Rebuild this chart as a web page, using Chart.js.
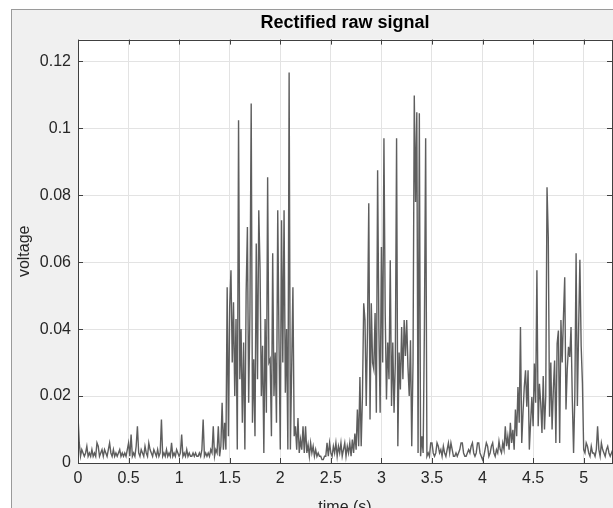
<!DOCTYPE html>
<html>
<head>
<meta charset="utf-8">
<script src="https://cdn.jsdelivr.net/npm/chart.js@4"></script>
<style>
    html, body { margin: 0; padding: 0; background: #fff; overflow: hidden; }
    #wrap { position: relative; width: 613px; height: 508px; overflow: hidden; }
    #panel { position: absolute; left: 11px; top: 9px; right: 0; bottom: 0;
             background: #f0f0f0; border-left: 1px solid #9a9a9a; border-top: 1px solid #9a9a9a; }
    #signalChart { position: absolute; left: 0; top: 0; }
</style>
</head>
<body>
<div id="wrap">
    <div id="panel"></div>
    <canvas id="signalChart" width="613" height="520"></canvas>
</div>
<script>
// sampling interval of the recording (s)
const sampleStep = 0.0125;

// rectified voltage
const quietStart = [
    0.014, 0.006, 0.002, 0.004, 0.003, 0.002, 0.003, 0.005, 0.002, 0.003,
    0.002, 0.004, 0.002, 0.003, 0.002, 0.006, 0.005, 0.002, 0.003, 0.004,
    0.002, 0.004, 0.003, 0.002, 0.004, 0.006, 0.003, 0.002, 0.004, 0.002,
    0.003, 0.002, 0.003, 0.004, 0.002, 0.003, 0.002, 0.003, 0.002, 0.004,
    0.006, 0.002, 0.0085, 0.002, 0.003, 0.002, 0.005, 0.011, 0.003, 0.002,
    0.004, 0.003, 0.002, 0.005, 0.003, 0.002, 0.006, 0.004, 0.003, 0.002,
    0.004, 0.003, 0.002, 0.004, 0.002, 0.003, 0.013, 0.002, 0.003, 0.002,
    0.004, 0.002, 0.003, 0.002, 0.006, 0.002, 0.003, 0.002, 0.004, 0.003,
    0.002, 0.003, 0.0085, 0.002, 0.003, 0.002, 0.004, 0.002, 0.003, 0.002,
    0.002, 0.003, 0.002, 0.003, 0.002, 0.002, 0.003, 0.002, 0.004, 0.013,
    0.002, 0.003, 0.002, 0.003, 0.002, 0.004, 0.003, 0.011, 0.002, 0.004,
    0.003, 0.011, 0.002, 0.005, 0.018, 0.004
];
const burstOne = [
    0.012, 0.004, 0.0525, 0.008, 0.047, 0.0576, 0.03, 0.048, 0.02, 0.043,
    0.004, 0.1024, 0.025, 0.04, 0.012, 0.036, 0.004, 0.051, 0.0705, 0.018,
    0.045, 0.1074, 0.012, 0.031, 0.008, 0.0656, 0.025, 0.0755, 0.058, 0.02,
    0.035, 0.003, 0.043, 0.015, 0.0854, 0.03, 0.031, 0.008, 0.0627, 0.02,
    0.033, 0.012, 0.0755, 0.036, 0.004, 0.0725, 0.03, 0.0755, 0.021, 0.04,
    0.004, 0.1167, 0.004, 0.028, 0.0525, 0.008
];
const quietMid = [
    0.011, 0.004, 0.0134, 0.003, 0.007, 0.004, 0.011, 0.003, 0.011, 0.003,
    0.0055, 0.002, 0.006, 0.003, 0.005, 0.002, 0.004, 0.002, 0.003, 0.002,
    0.002, 0.001, 0.001, 0.002, 0.002, 0.006, 0.002, 0.006, 0.003, 0.002,
    0.005, 0.003, 0.006, 0.002, 0.005, 0.003, 0.006, 0.002, 0.004, 0.006,
    0.002, 0.005, 0.003, 0.006, 0.002, 0.007, 0.003, 0.0088, 0.004, 0.016,
    0.005
];
const burstTwo = [
    0.0257, 0.005, 0.02, 0.0477, 0.0427, 0.017, 0.04, 0.0776, 0.013, 0.0477,
    0.03, 0.028, 0.0448, 0.015, 0.0875, 0.04, 0.015, 0.0645, 0.03, 0.097,
    0.045, 0.019, 0.036, 0.025, 0.0606, 0.017, 0.036, 0.015, 0.03, 0.097,
    0.005, 0.033, 0.022, 0.0406, 0.025, 0.0427, 0.032, 0.0427, 0.0287, 0.02,
    0.0367, 0.005, 0.03, 0.1098, 0.078, 0.1048, 0.003, 0.1045, 0.002, 0.008,
    0.003, 0.04, 0.097
];
const quietLate = [
    0.002, 0.003, 0.002, 0.006, 0.006, 0.003, 0.002, 0.003, 0.006, 0.005,
    0.003, 0.004, 0.002, 0.005, 0.003, 0.002, 0.004, 0.006, 0.003, 0.006,
    0.004, 0.002, 0.002, 0.003, 0.002, 0.003, 0.004, 0.006, 0.006, 0.003,
    0.002, 0.002, 0.003, 0.004, 0.003, 0.005, 0.006, 0.003, 0.002, 0.003,
    0.006, 0.006, 0.003, 0.002, 0.001, 0.002, 0.004, 0.006, 0.005, 0.002,
    0.003, 0.005, 0.006, 0.003, 0.002, 0.004, 0.003, 0.0065, 0.004, 0.003
];
const burstThree = [
    0.006, 0.004, 0.011, 0.005, 0.008, 0.004, 0.012, 0.006, 0.0099, 0.004,
    0.016, 0.008, 0.0227, 0.012, 0.0406, 0.006, 0.015, 0.0227, 0.0277, 0.0168,
    0.0277, 0.004, 0.012, 0.0197, 0.011, 0.0297, 0.018, 0.0576, 0.011, 0.0237,
    0.018, 0.009, 0.026, 0.01, 0.02, 0.0824, 0.0675, 0.0138, 0.03, 0.01,
    0.022, 0.0306, 0.006, 0.0357, 0.0396, 0.006, 0.0427, 0.03, 0.0437, 0.0555,
    0.016, 0.028, 0.0347, 0.0317, 0.0406, 0.019, 0.003, 0.02, 0.0627, 0.017,
    0.04, 0.0607, 0.035, 0.024
];
const quietEnd = [
    0.004, 0.003, 0.006, 0.005, 0.003, 0.002, 0.005, 0.003, 0.003, 0.002,
    0.004, 0.011, 0.004, 0.002, 0.006, 0.004, 0.003, 0.002, 0.004, 0.005,
    0.003, 0.002, 0.003, 0.004
];

const xTicks = [0, 0.5, 1, 1.5, 2, 2.5, 3, 3.5, 4, 4.5, 5];
const yTicks = [0, 0.02, 0.04, 0.06, 0.08, 0.1, 0.12];

const voltage = [].concat(quietStart, burstOne, quietMid, burstTwo, quietLate, burstThree, quietEnd);
const points = voltage.map((v, i) => ({ x: i * sampleStep, y: v }));

const FONT = '"Liberation Sans", Arial, Helvetica, sans-serif';

// white axes box, outline and inward tick marks like the original figure
const axesBox = {
    id: 'axesBox',
    beforeDraw(chart) {
        const { ctx, chartArea: a } = chart;
        ctx.save();
        ctx.fillStyle = '#ffffff';
        ctx.fillRect(a.left, a.top, a.right - a.left, a.bottom - a.top);
        ctx.restore();
    },
    afterDraw(chart) {
        const { ctx, chartArea: a, scales } = chart;
        ctx.save();
        ctx.strokeStyle = '#404040';
        ctx.lineWidth = 1;
        ctx.beginPath();
        xTicks.forEach(t => {
            const px = Math.round(scales.x.getPixelForValue(t)) + 0.5;
            ctx.moveTo(px, a.bottom); ctx.lineTo(px, a.bottom - 5);
            ctx.moveTo(px, a.top); ctx.lineTo(px, a.top + 5);
        });
        yTicks.forEach(t => {
            const py = Math.round(scales.y.getPixelForValue(t)) + 0.5;
            ctx.moveTo(a.left, py); ctx.lineTo(a.left + 5, py);
            ctx.moveTo(a.right, py); ctx.lineTo(a.right - 5, py);
        });
        ctx.stroke();
        ctx.strokeRect(Math.round(a.left) + 0.5, Math.round(a.top) + 0.5,
            Math.round(a.right - a.left), Math.round(a.bottom - a.top));
        ctx.restore();
    }
};

new Chart(document.getElementById('signalChart'), {
    type: 'line',
    data: {
        datasets: [{
            data: points,
            borderColor: '#5e5e5e',
            borderWidth: 1.4,
            pointRadius: 0,
            tension: 0,
            fill: false
        }]
    },
    options: {
        responsive: false,
        animation: false,
        layout: { padding: { left: 0, right: 1, top: 0, bottom: 0 } },
        plugins: {
            legend: { display: false },
            tooltip: { enabled: false },
            title: {
                display: true,
                fullSize: false,
                text: 'Rectified raw signal',
                color: '#000',
                font: { family: FONT, size: 18, weight: 'bold', lineHeight: 1.2 },
                padding: { top: 12, bottom: 6 }
            }
        },
        scales: {
            x: {
                type: 'linear',
                min: 0,
                max: 5.28,
                afterFit(s) { s.height = 57; },
                afterBuildTicks(s) { s.ticks = xTicks.map(v => ({ value: v })); },
                ticks: {
                    includeBounds: false,
                    padding: 6,
                    color: '#262626',
                    font: { family: FONT, size: 16 },
                    maxRotation: 0,
                    callback: v => String(+v.toFixed(2))
                },
                grid: { color: '#e3e3e3', drawTicks: false },
                border: { display: false },
                title: {
                    display: true,
                    text: 'time (s)',
                    color: '#262626',
                    font: { family: FONT, size: 16 },
                    padding: { top: 0, bottom: 3 }
                }
            },
            y: {
                min: 0,
                max: 0.1265,
                afterFit(s) { s.width = 78; },
                afterBuildTicks(s) { s.ticks = yTicks.map(v => ({ value: v })); },
                ticks: {
                    includeBounds: false,
                    padding: 7,
                    color: '#262626',
                    font: { family: FONT, size: 16 },
                    callback: v => String(+v.toFixed(3))
                },
                grid: { color: '#e3e3e3', drawTicks: false },
                border: { display: false },
                title: {
                    display: true,
                    text: 'voltage',
                    color: '#262626',
                    font: { family: FONT, size: 16 },
                    padding: { top: 15, bottom: 0 }
                }
            }
        }
    },
    plugins: [axesBox]
});
</script>
</body>
</html>
